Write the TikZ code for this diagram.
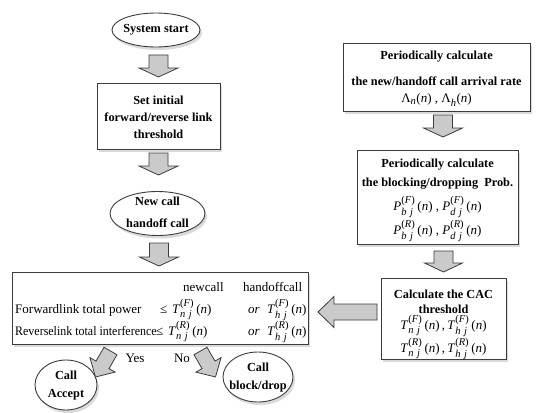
\documentclass[tikz,border=0pt]{standalone}
\usepackage{amsmath}
\usepackage{graphicx}
\usepackage{fontspec}
\setmainfont{Liberation Serif}
\usetikzlibrary{shapes.geometric,shadows}
\definecolor{ln}{HTML}{3C3C3C}
\definecolor{af}{HTML}{CACACA}
\definecolor{shd}{HTML}{DADADA}
\newcommand\bfs{\fontsize{12.3}{15}\selectfont\bfseries}
\newcommand\rgs{\fontsize{13}{15}\selectfont}
\newcommand\scr[1]{\mbox{\fontsize{10.5}{11}\selectfont #1}}
\newcommand\Sy[4]{\textit{#1}\ensuremath{_{\scr{\itshape #2}}^{\scr{(\textit{#3})}}}\,(\textit{#4})}
\newcommand\Lm[1]{Λ\ensuremath{_{\scr{\itshape #1}}}(\textit{n})}
\newcommand\barrow[7]{%
 \begin{scope}[shift={(#1,#2)},rotate=#3]
 \filldraw[barr] (-#4/2,-#6/2) -- (#4/2-#5,-#6/2) -- (#4/2-#5,-#7/2) -- (#4/2,0) -- (#4/2-#5,#7/2) -- (#4/2-#5,#6/2) -- (-#4/2,#6/2) -- cycle;
 \end{scope}}
\tikzset{
 lnsty/.style={draw=ln,line width=0.9pt},
 shad/.style={drop shadow={shadow xshift=2pt,shadow yshift=-3pt,fill=shd,opacity=1}},
 boxs/.style={lnsty,fill=white,rectangle,inner sep=0,shad},
 ell/.style={lnsty,fill=white,ellipse,inner sep=0,shad},
 barr/.style={draw=ln,fill=af,line width=0.8pt,line join=miter},
 bt/.style={font=\bfs,inner sep=0,anchor=center},
 rt/.style={font=\rgs,inner sep=0,anchor=base west},
 mt/.style={font=\rgs,inner sep=0,anchor=center},
}
\begin{document}
\begin{tikzpicture}[x=1pt,y=-1pt]
\path[use as bounding box,fill=white] (0,0) rectangle (543,412);

% left column
\node[ell,minimum width=88pt,minimum height=34pt] (e1) at (156,30) {};
\node[bt] (t1) at (156,30) {System start};
\barrow{158.5}{66}{270}{22}{9}{19}{39}
\node[boxs,minimum width=123pt,minimum height=66pt] (b1) at (158.5,116) {};
\node[bt] (t2) at (158.5,100) {Set initial};
\node[bt] (t3) at (158.5,117) {forward/reverse link};
\node[bt] (t4) at (158.5,134) {threshold};
\barrow{158.5}{164}{270}{22}{9}{19}{39}
\node[ell,minimum width=95pt,minimum height=44pt] (e2) at (157.5,213.5) {};
\node[bt] (t5) at (157.5,201) {New call};
\node[bt] (t6) at (157.5,223) {handoff call};
\barrow{159}{254.5}{270}{23}{9}{19}{39}

% big box
\node[boxs,minimum width=296pt,minimum height=72pt] (bb) at (160,308) {};
\node[rt] (r1a) at (183,291) {newcall};
\node[rt] (r1b) at (243,291) {handoffcall};
\node[rt] (r2a) at (15,313) {Forwardlink total power};
\node[rt] (r2le) at (160,313) {≤};
\node[rt] (r2b) at (172,313) {\Sy{T}{n\,\,j}{F}{n}};
\node[rt] (r2c) at (248,313) {\textit{or}};
\node[rt] (r2d) at (267,313) {\Sy{T}{h\,\,j}{F}{n}};
\node[rt] (r3a) at (15,335) {\scalebox{0.92}[1]{Reverselink total interference}};
\node[rt] (r3le) at (156,335) {≤};
\node[rt] (r3b) at (168,335) {\Sy{T}{n\,\,j}{R}{n}};
\node[rt] (r3c) at (248,335) {\textit{or}};
\node[rt] (r3d) at (267,335) {\Sy{T}{h\,\,j}{R}{n}};

% yes / no
\barrow{103}{364}{240}{30}{14}{15}{29}
\barrow{208}{364}{300}{30}{14}{15}{29}
\node[mt] (yes) at (135,358) {Yes};
\node[mt] (no) at (182,358) {No};
\node[ell,minimum width=62pt,minimum height=50pt] (ea) at (66,385) {};
\node[bt] (t7) at (66,375) {Call};
\node[bt] (t8) at (66,395) {Accept};
\node[ell,minimum width=70pt,minimum height=50pt] (ed) at (258,377) {};
\node[bt] (t9) at (258,367) {Call};
\node[bt] (t10) at (258,387) {block/drop};

% right column
\node[boxs,minimum width=187pt,minimum height=68pt] (b2) at (436.5,77) {};
\node[bt] (u1) at (436.5,57) {Periodically calculate};
\node[bt] (u2) at (436.5,81) {the new/handoff call arrival rate};
\node[mt] (u3) at (436.5,100) {\Lm{n} ,\ \Lm{h}};
\barrow{443}{126}{270}{22}{9}{19}{39}
\node[boxs,minimum width=161pt,minimum height=94pt] (b3) at (437.5,197) {};
\node[bt] (u4) at (437.5,165) {Periodically calculate};
\node[bt] (u5) at (437.5,184) {the blocking/dropping\ \ Prob.};
\node[mt] (u6) at (437.5,207) {\Sy{P}{b\,\,j}{F}{n}\ ,\ \Sy{P}{d\,\,j}{F}{n}};
\node[mt] (u7) at (437.5,231) {\Sy{P}{b\,\,j}{R}{n}\ ,\ \Sy{P}{d\,\,j}{R}{n}};
\barrow{443.5}{261.5}{270}{21}{9}{19}{38}
\node[boxs,minimum width=125pt,minimum height=81pt] (b4) at (443.5,318.5) {};
\node[bt] (u8) at (443.5,294) {Calculate the CAC};
\node[bt] (u9) at (443.5,309) {threshold};
\node[mt] (u10) at (443.5,326) {\Sy{T}{n\,\,j}{F}{n}\,,\,\Sy{T}{h\,\,j}{F}{n}};
\node[mt] (u11) at (443.5,349) {\Sy{T}{n\,\,j}{R}{n}\,,\,\Sy{T}{h\,\,j}{R}{n}};
\barrow{347.5}{312}{180}{59}{16}{16}{31}
\end{tikzpicture}
\end{document}
